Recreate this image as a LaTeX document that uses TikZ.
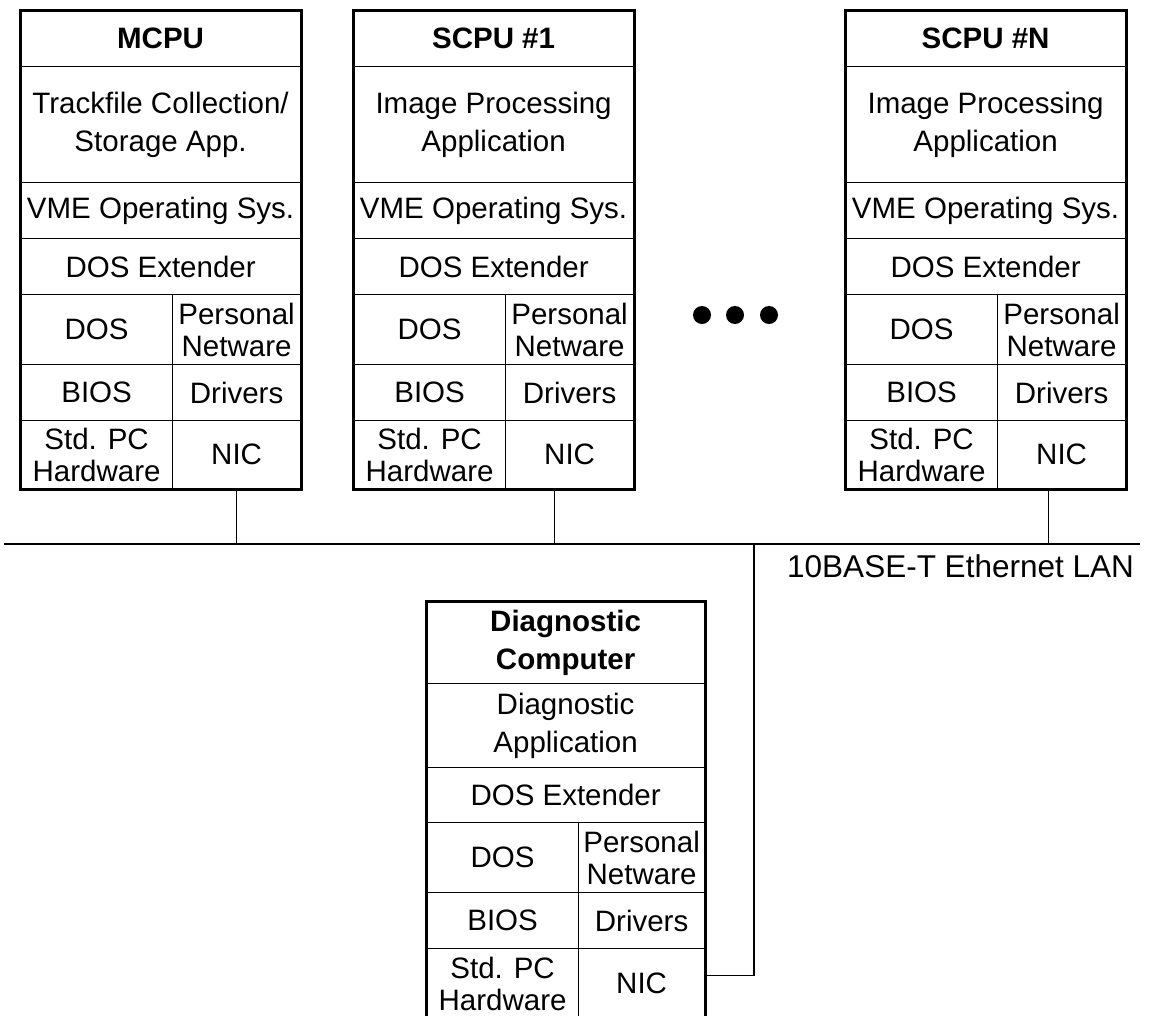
\documentclass[tikz,border=0pt]{standalone}
\usepackage{fontspec}
\setmainfont{Liberation Sans}
\tikzset{
  cell/.style={draw, line width=1.2pt, inner sep=0pt, anchor=north west,
    align=center, font=\fontsize{29.5}{32}\selectfont},
  head/.style={cell, font=\bfseries\fontsize{29.5}{38}\selectfont},
  app/.style={cell, font=\fontsize{29.5}{38}\selectfont},
  frame/.style={line width=3pt},
  wire/.style={line width=1.3pt}
}
\begin{document}
\begin{tikzpicture}[x=1pt,y=-1pt]
  \useasboundingbox (0,0) rectangle (1151,1015);
  % MCPU
  \node[head, minimum width=280, minimum height=56] (m-title) at (20,10) {MCPU};
  \node[app, minimum width=280, minimum height=116] (m-app) at (20,66) {Trackfile Collection/\\Storage App.};
  \node[cell, minimum width=280, minimum height=56] (m-vme) at (20,182) {VME Operating Sys.};
  \node[cell, minimum width=280, minimum height=56] (m-ext) at (20,238) {DOS Extender};
  \node[cell, minimum width=152, minimum height=70] (m-dos) at (20,294) {DOS};
  \node[cell, minimum width=128, minimum height=70] (m-pn) at (172,294) {Personal\\Netware};
  \node[cell, minimum width=152, minimum height=56] (m-bios) at (20,364) {BIOS};
  \node[cell, minimum width=128, minimum height=56] (m-drv) at (172,364) {Drivers};
  \node[cell, minimum width=152, minimum height=68] (m-hw) at (20,420) {Std. PC\\Hardware};
  \node[cell, minimum width=128, minimum height=68] (m-nic) at (172,420) {NIC};
  \draw[frame] (m-title.north west) rectangle (m-nic.south east);
  % SCPU #1
  \node[head, minimum width=280, minimum height=56] (s1-title) at (353,10) {SCPU \#1};
  \node[app, minimum width=280, minimum height=116] (s1-app) at (353,66) {Image Processing\\Application};
  \node[cell, minimum width=280, minimum height=56] (s1-vme) at (353,182) {VME Operating Sys.};
  \node[cell, minimum width=280, minimum height=56] (s1-ext) at (353,238) {DOS Extender};
  \node[cell, minimum width=152, minimum height=70] (s1-dos) at (353,294) {DOS};
  \node[cell, minimum width=128, minimum height=70] (s1-pn) at (505,294) {Personal\\Netware};
  \node[cell, minimum width=152, minimum height=56] (s1-bios) at (353,364) {BIOS};
  \node[cell, minimum width=128, minimum height=56] (s1-drv) at (505,364) {Drivers};
  \node[cell, minimum width=152, minimum height=68] (s1-hw) at (353,420) {Std. PC\\Hardware};
  \node[cell, minimum width=128, minimum height=68] (s1-nic) at (505,420) {NIC};
  \draw[frame] (s1-title.north west) rectangle (s1-nic.south east);
  % SCPU #N
  \node[head, minimum width=280, minimum height=56] (sn-title) at (845,10) {SCPU \#N};
  \node[app, minimum width=280, minimum height=116] (sn-app) at (845,66) {Image Processing\\Application};
  \node[cell, minimum width=280, minimum height=56] (sn-vme) at (845,182) {VME Operating Sys.};
  \node[cell, minimum width=280, minimum height=56] (sn-ext) at (845,238) {DOS Extender};
  \node[cell, minimum width=152, minimum height=70] (sn-dos) at (845,294) {DOS};
  \node[cell, minimum width=128, minimum height=70] (sn-pn) at (997,294) {Personal\\Netware};
  \node[cell, minimum width=152, minimum height=56] (sn-bios) at (845,364) {BIOS};
  \node[cell, minimum width=128, minimum height=56] (sn-drv) at (997,364) {Drivers};
  \node[cell, minimum width=152, minimum height=68] (sn-hw) at (845,420) {Std. PC\\Hardware};
  \node[cell, minimum width=128, minimum height=68] (sn-nic) at (997,420) {NIC};
  \draw[frame] (sn-title.north west) rectangle (sn-nic.south east);
  % diagnostic computer
  \node[head, minimum width=278, minimum height=82] (d-title) at (426,601) {Diagnostic\\Computer};
  \node[app, minimum width=278, minimum height=84] (d-app) at (426,683) {Diagnostic\\Application};
  \node[cell, minimum width=278, minimum height=55] (d-ext) at (426,767) {DOS Extender};
  \node[cell, minimum width=152, minimum height=70] (d-dos) at (426,822) {DOS};
  \node[cell, minimum width=126, minimum height=70] (d-pn) at (578,822) {Personal\\Netware};
  \node[cell, minimum width=152, minimum height=56] (d-bios) at (426,892) {BIOS};
  \node[cell, minimum width=126, minimum height=56] (d-drv) at (578,892) {Drivers};
  \node[cell, minimum width=152, minimum height=70] (d-hw) at (426,948) {Std. PC\\Hardware};
  \node[cell, minimum width=126, minimum height=70] (d-nic) at (578,948) {NIC};
  \draw[frame] (d-title.north west) rectangle (d-nic.south east);
  % dots
  \foreach \x in {702,735,769}
    \fill (\x,315) circle (9pt);
  % LAN
  \coordinate (lan-l) at (4,544);
  \coordinate (lan-r) at (1140,544);
  \coordinate (tap) at (754,544);
  \node[anchor=base west, inner sep=0pt, font=\fontsize{31.5}{34}\selectfont] (lan) at (787,577) {10BASE-T Ethernet LAN};
  \begin{scope}[wire]
    \draw (lan-l) -- (lan-r);
    \draw (m-nic.south) -- (m-nic.south |- lan-l);
    \draw ([xshift=-15pt]s1-nic.south) -- ([xshift=-15pt]s1-nic.south |- lan-l);
    \draw ([xshift=-13pt]sn-nic.south) -- ([xshift=-13pt]sn-nic.south |- lan-l);
    \draw ([yshift=8pt]d-nic.east) -| (tap);
  \end{scope}
\end{tikzpicture}
\end{document}
